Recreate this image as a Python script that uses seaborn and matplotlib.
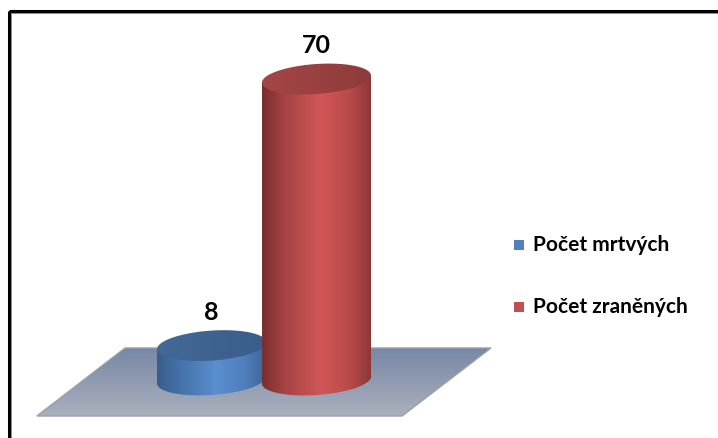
import numpy as np
import pandas as pd
import matplotlib
matplotlib.use("Agg")
import matplotlib.pyplot as plt
from matplotlib.patches import Polygon, Rectangle
from matplotlib.colors import LinearSegmentedColormap
import seaborn as sns

# Data
categories = ["Počet mrtvých", "Počet zraněných"]
values = [8, 70]
colors = ["#4f81bd", "#c0504d"]

sns.set_theme(style="white")
plt.rcParams["font.family"] = ["Lato", "DejaVu Sans"]

W, H = 718, 438
fig = plt.figure(figsize=(W / 100, H / 100), dpi=100)
fig.patch.set_facecolor("white")

# Background layer in pixel space: frame and floor
bg = fig.add_axes([0, 0, 1, 1], zorder=0)
bg.set_xlim(0, W)
bg.set_ylim(H, 0)
bg.axis("off")

bg.add_patch(Rectangle((8.5, 10.5), 900, 900, fill=False, lw=2.2,
                       edgecolor="black", zorder=1))
bg.add_patch(Rectangle((11.0, 13.0), 900, 900, fill=False, lw=0.7,
                       edgecolor="#8a8a8a", zorder=1))

floor_pts = np.array([[125, 348], [491, 348], [402, 416], [37, 416]])
floor = Polygon(floor_pts, closed=True, facecolor="none",
                edgecolor="#9a9ea6", lw=1.0, zorder=3)
bg.add_patch(floor)
fcmap = LinearSegmentedColormap.from_list("floor", ["#7788a7", "#aab0bc"])
grad = np.linspace(0, 1, 64).reshape(-1, 1)
im = bg.imshow(grad, cmap=fcmap, extent=[37, 491, 416, 348],
               aspect="auto", interpolation="bicubic", zorder=2)
clip = Polygon(floor_pts, closed=True, transform=bg.transData)
im.set_clip_path(clip)

# Chart layer: bars through seaborn in data space
ax = fig.add_axes([0, 0, 1, 1], zorder=1)
ax.patch.set_alpha(0)
df = pd.DataFrame({"kategorie": categories, "hodnota": values})
bar_width = 1.038
sns.barplot(data=df, x="kategorie", y="hodnota", hue="kategorie",
            palette=colors, width=bar_width, dodge=False, legend=False,
            ax=ax, saturation=1)

px_per_unit = 4.3
px_per_cat = 105.0
x0_px, y0_px = 211.5, 380.0
ax.set_xlim(-x0_px / px_per_cat, (W - x0_px) / px_per_cat)
ax.set_ylim(-(H - y0_px) / px_per_unit, y0_px / px_per_unit)
ax.axis("off")

half_h = 15.0 / px_per_unit      # half height of the elliptical caps
shear = 3.5 / px_per_unit        # perspective tilt of the caps

side_stops = [
    ["#3a5d8b", "#4571a8", "#5b8ed0", "#4f7fbd", "#3d6699"],
    ["#7a2f2f", "#a54343", "#d25757", "#bb4a4a", "#8e3838"],
]
top_stops = [
    ["#436997", "#3a5d8a"],
    ["#a54646", "#8f3b3b"],
]

t_low = np.linspace(np.pi, 2 * np.pi, 80)
t_all = np.linspace(0, 2 * np.pi, 160)

bars = sorted(ax.patches, key=lambda p: p.get_x())
for i, (rect, val) in enumerate(zip(bars, values)):
    z = 2 + i
    xl = rect.get_x()
    w = rect.get_width()
    h = rect.get_height()
    cx = xl + w / 2
    a = w / 2

    # Side of the cylinder: body plus front half of the base ellipse
    bx = cx + a * np.cos(t_low)
    by = half_h * np.sin(t_low) + shear * np.cos(t_low)
    side = np.column_stack([
        np.concatenate([bx, [xl + w, xl]]),
        np.concatenate([by, [h + shear, h - shear]]),
    ])
    side_patch = Polygon(side, closed=True, transform=ax.transData)
    rect.set_clip_path(side_patch)
    rect.set_zorder(z)
    rect.set_linewidth(0)

    cmap = LinearSegmentedColormap.from_list(
        f"side{i}", list(zip([0, 0.2, 0.55, 0.8, 1.0], side_stops[i])))
    gx = np.linspace(0, 1, 128).reshape(1, -1)
    img = ax.imshow(gx, cmap=cmap, aspect="auto", interpolation="bicubic",
                    extent=[xl, xl + w, -half_h - 2 * shear, h + 2 * shear],
                    zorder=z + 0.1)
    img.set_clip_path(side_patch)

    # Top cap
    tx = cx + a * np.cos(t_all)
    ty = h + half_h * np.sin(t_all) + shear * np.cos(t_all)
    cap = Polygon(np.column_stack([tx, ty]), closed=True,
                  transform=ax.transData)
    tcmap = LinearSegmentedColormap.from_list(f"top{i}", top_stops[i])
    timg = ax.imshow(gx, cmap=tcmap, aspect="auto", interpolation="bicubic",
                     extent=[xl, xl + w, h - half_h - 2 * shear,
                             h + half_h + 2 * shear],
                     zorder=z + 0.2)
    timg.set_clip_path(cap)

    # Value label above the cylinder
    ax.text(cx, val + 7.8, f"{val}", ha="center", va="center",
            fontsize=18, fontweight="bold", color="black", zorder=10)

# Legend
for i, (cat, col) in enumerate(zip(categories, colors)):
    yc = 245 + i * 62
    bg.add_patch(Rectangle((514, yc - 5), 10, 10, facecolor=col,
                           edgecolor="none", zorder=5))
    bg.text(533, yc, cat, ha="left", va="center", fontsize=15,
            fontweight="bold", color="black", zorder=5)

fig.savefig("out.png", dpi=100, facecolor="white")
